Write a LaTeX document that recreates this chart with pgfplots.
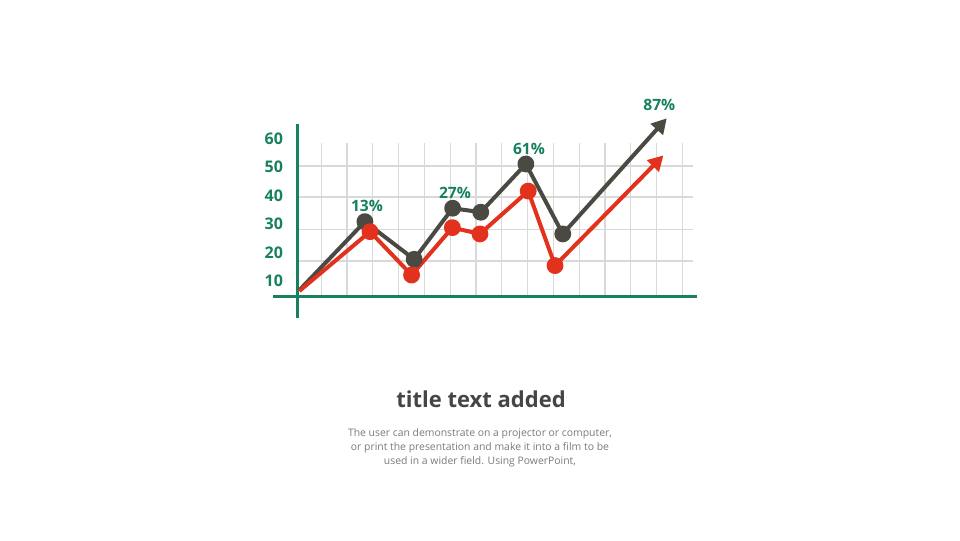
\documentclass[border=0pt]{standalone}
\usepackage{pgfplots}
\pgfplotsset{compat=1.18}
\usepackage{fontspec}
\setmainfont{Open Sans}
\usetikzlibrary{arrows.meta}
\definecolor{tgreen}{HTML}{16805F}
\definecolor{dgray}{HTML}{4A4A42}
\definecolor{tred}{HTML}{E2311D}
\definecolor{gridc}{HTML}{D9D9D9}
\definecolor{titlec}{HTML}{454545}
\definecolor{textc}{HTML}{7A7A7A}
\begin{document}
\begin{tikzpicture}
\begin{axis}[
  x=12.9pt, y=1.427pt,
  xmin=-0.87, xmax=15.55, ymin=-3, ymax=65,
  axis line style={draw=none},
  xtick=\empty, ytick={10,20,30,40,50,60},
  major tick length=0pt,
  /pgf/number format/assume math mode=true,
  yticklabel style={font=\bfseries\fontsize{8pt}{9pt}\selectfont, text=tgreen, anchor=east, xshift=8.5pt},
  clip=false,
]
% page extent
\path (axis cs:-11.453,108.46) rectangle (axis cs:25.756,-80.75);
% grid
\pgfplotsinvokeforeach{1,...,15}{
  \draw[gridc, line width=0.6pt] (axis cs:#1,4.5) -- (axis cs:#1,58.5);
}
\pgfplotsinvokeforeach{17.0,28.1,39.4,50.3}{
  \draw[gridc, line width=0.6pt] (axis cs:0.085,#1) -- (axis cs:15.4,#1);
}
% axis lines
\draw[tgreen, line width=1.5pt] (axis cs:-0.87,4.5) -- (axis cs:15.55,4.5);
\draw[tgreen, line width=1.5pt] (axis cs:0.085,-3) -- (axis cs:0.085,65);
% series
\addplot[dgray, line width=2pt, line join=round, -{Triangle[length=7.5pt,width=8pt]},
  mark=*, mark size=3.2pt, mark indices={2,3,4,5,6,7}, mark options={solid, fill=dgray, draw=none}]
  coordinates {(0.15,6.8) (2.69,30.8) (4.60,17.6) (6.09,35.5) (7.18,34.1) (8.93,51.0) (10.36,26.5) (14.39,67.0)};
\addplot[tred, line width=2pt, line join=round, -{Triangle[length=7.5pt,width=8pt]},
  mark=*, mark size=3.2pt, mark indices={2,3,4,5,6,7}, mark options={solid, fill=tred, draw=none}]
  coordinates {(0.15,6.5) (2.89,27.3) (4.50,12.1) (6.08,28.7) (7.15,26.5) (9.02,41.5) (10.06,15.4) (14.26,54.0)};
% percent labels
\node[text=tgreen, font=\bfseries\fontsize{7.8pt}{9pt}\selectfont] at (axis cs:2.77,36.3) {13\%};
\node[text=tgreen, font=\bfseries\fontsize{7.8pt}{9pt}\selectfont] at (axis cs:6.18,40.8) {27\%};
\node[text=tgreen, font=\bfseries\fontsize{7.8pt}{9pt}\selectfont] at (axis cs:9.05,56.3) {61\%};
\node[text=tgreen, font=\bfseries\fontsize{7.8pt}{9pt}\selectfont] at (axis cs:14.1,71.7) {87\%};
% titles
\node[text=titlec, font=\bfseries\fontsize{11pt}{13pt}\selectfont] at (axis cs:7.19,-31.35) {title text added};
\node[text=textc, align=center, font=\fontsize{5.2pt}{7pt}\selectfont] at (axis cs:7.15,-48.5)
  {The user can demonstrate on a projector or computer,\\or print the presentation and make it into a film to be\\used in a wider field. Using PowerPoint,};
\end{axis}
\end{tikzpicture}
\end{document}
